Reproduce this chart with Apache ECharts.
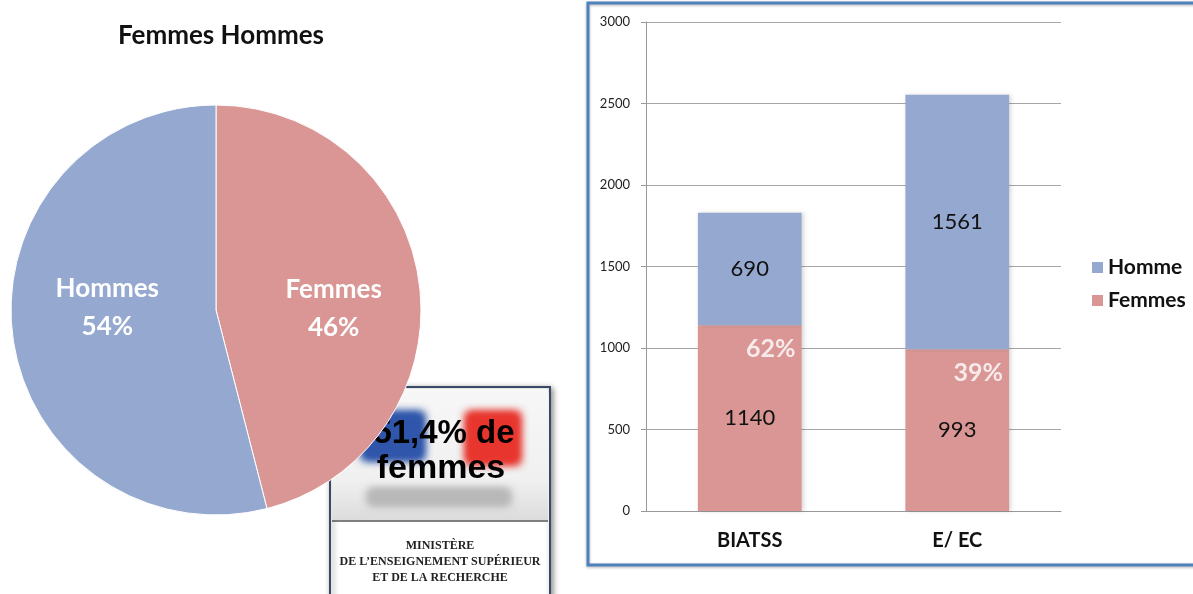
<!DOCTYPE html>
<html>
<head>
<meta charset="utf-8">
<title>Femmes Hommes</title>
<script src="https://cdn.jsdelivr.net/npm/echarts@6/dist/echarts.min.js"></script>
<style>
  html, body { margin: 0; padding: 0; background: #fff; }
  #chart { width: 1193px; height: 594px; }
</style>
</head>
<body>
<div id="chart"></div>
<script>
// données du camembert
let pieNames = ['Femmes', 'Hommes'];
let pieValues = [46, 54];

// données des barres
let categories = ['BIATSS', 'E/ EC'];
let femmesValues = [1140, 993];
let hommeValues = [690, 1561];
let femmesPct = ['62%', '39%'];

let blue = '#95a9d0',
    pink = '#d99694',
    font = 'Lato, "Open Sans", sans-serif';

let chart = echarts.init(document.getElementById('chart'));

// décalage des étiquettes du camembert
let pieOffsets = [[13, 12], [-4, -16]];
let pieData = pieNames.map(function (name, i) {
    return {
        name: name,
        value: pieValues[i],
        itemStyle: { color: i === 0 ? pink : blue },
        label: { offset: pieOffsets[i] }
    };
});

// flou : on dessine seulement l'ombre (forme hors écran)
let blurRect = function (x, y, w, h, color, blur) {
    return {
        type: 'rect',
        shape: { x: x - 2000, y: y, width: w, height: h, r: 4 },
        style: { fill: color, shadowBlur: blur, shadowColor: color, shadowOffsetX: 2000 }
    };
};

chart.setOption({
    animation: false,
    title: {
        text: 'Femmes Hommes',
        left: 216,
        top: 18,
        textAlign: 'center',
        textStyle: { fontFamily: font, fontSize: 26, fontWeight: 'bold', color: '#111' }
    },
    legend: {
        data: ['Homme', 'Femmes'],
        orient: 'vertical',
        left: 1087,
        top: 252,
        itemWidth: 11,
        itemHeight: 11,
        itemGap: 12,
        icon: 'rect',
        textStyle: { fontFamily: font, fontSize: 21, fontWeight: 'bold', color: '#111' }
    },
    grid: { left: 646, right: 132, top: 22, bottom: 83 },
    xAxis: {
        type: 'category',
        data: categories,
        axisLine: { lineStyle: { color: '#999' } },
        axisTick: { length: 8, lineStyle: { color: '#999' } },
        axisLabel: { margin: 20, fontFamily: font, fontSize: 20, fontWeight: 'bold', color: '#111' }
    },
    yAxis: {
        type: 'value',
        min: 0,
        max: 3000,
        interval: 500,
        axisLine: { show: true, lineStyle: { color: '#999' } },
        axisTick: { show: true, length: 5, lineStyle: { color: '#999' } },
        splitLine: { lineStyle: { color: '#a6a6a6' } },
        axisLabel: { margin: 16, fontFamily: font, fontSize: 13, color: '#222', formatter: function (v) { return String(v); } }
    },
    series: [{
        type: 'pie',
        center: [216, 310],
        radius: 205,
        startAngle: 90,
        clockwise: true,
        data: pieData,
        itemStyle: { borderColor: '#fff', borderWidth: 1 },
        label: {
            position: 'inside',
            formatter: '{b}\n{d}%',
            fontFamily: font,
            fontSize: 26,
            fontWeight: 'bold',
            lineHeight: 38,
            color: '#fff'
        },
        labelLine: { show: false }
    }, {
        name: 'Femmes',
        type: 'bar',
        stack: 'total',
        data: femmesValues,
        barWidth: '50%',
        itemStyle: { color: pink, shadowBlur: 4, shadowColor: 'rgba(0,0,0,0.15)', shadowOffsetX: 2 },
        label: { show: true, position: 'inside', fontFamily: font, fontSize: 22, color: '#111' }
    }, {
        name: 'Homme',
        type: 'bar',
        stack: 'total',
        data: hommeValues,
        barWidth: '50%',
        itemStyle: { color: blue, shadowBlur: 4, shadowColor: 'rgba(0,0,0,0.15)', shadowOffsetX: 2 },
        label: { show: true, position: 'inside', fontFamily: font, fontSize: 22, color: '#111' }
    }, {
        type: 'scatter',
        data: femmesValues,
        symbolSize: 0,
        silent: true,
        z: 5,
        label: {
            show: true,
            position: 'bottom',
            distance: 0,
            offset: [21, 11],
            formatter: function (p) { return femmesPct[p.dataIndex]; },
            fontFamily: font,
            fontSize: 25,
            fontWeight: 'bold',
            color: '#fff'
        }
    }],
    graphic: [
        // cadre bleu du graphique en barres
        {
            type: 'rect',
            shape: { x: 588, y: 3, width: 640, height: 562 },
            style: { fill: 'none', stroke: '#4f81bd', lineWidth: 3, shadowBlur: 3, shadowColor: 'rgba(0,0,0,0.3)', shadowOffsetY: 1 },
            z: 0
        },
        // encart ministère
        {
            type: 'group',
            z: 100,
            children: [
                {
                    type: 'rect',
                    shape: { x: 330, y: 387, width: 220, height: 220 },
                    style: { fill: '#fff', stroke: '#3a4a66', lineWidth: 2, shadowBlur: 6, shadowColor: 'rgba(0,0,0,0.45)', shadowOffsetX: 2, shadowOffsetY: 2 }
                },
                {
                    type: 'rect',
                    shape: { x: 332, y: 389, width: 216, height: 131 },
                    style: {
                        fill: new echarts.graphic.LinearGradient(0, 0, 0, 1, [
                            { offset: 0, color: '#f7f7f7' },
                            { offset: 0.7, color: '#f0f0f0' },
                            { offset: 1, color: '#dcdcdc' }
                        ])
                    }
                },
                blurRect(362, 412, 62, 48, '#2f56aa', 8),
                blurRect(362, 412, 62, 48, '#2f56aa', 8),
                blurRect(366, 416, 54, 40, '#2f56aa', 4),
                blurRect(466, 412, 54, 52, '#e8362e', 8),
                blurRect(466, 412, 54, 52, '#e8362e', 8),
                blurRect(470, 416, 46, 44, '#e8362e', 4),
                blurRect(368, 489, 142, 16, '#b8b8b8', 8),
                blurRect(368, 489, 142, 16, '#b8b8b8', 8),
                {
                    type: 'line',
                    shape: { x1: 332, y1: 521, x2: 548, y2: 521 },
                    style: { stroke: '#555', lineWidth: 1.5 }
                },
                {
                    type: 'text',
                    x: 444, y: 434,
                    style: {
                        text: '51,4% de', fontFamily: '"Liberation Sans", Arial, sans-serif', fontSize: 33, fontWeight: 'bold',
                        fill: '#000', align: 'center', verticalAlign: 'middle'
                    }
                },
                {
                    type: 'text',
                    x: 441, y: 469,
                    style: {
                        text: 'femmes', fontFamily: '"Liberation Sans", Arial, sans-serif', fontSize: 34, fontWeight: 'bold',
                        fill: '#000', align: 'center', verticalAlign: 'middle'
                    }
                },
                {
                    type: 'text',
                    x: 440, y: 538,
                    style: {
                        text: 'MINISTÈRE\nDE L\u2019ENSEIGNEMENT SUPÉRIEUR\nET DE LA RECHERCHE',
                        fontFamily: '"Liberation Serif", "DejaVu Serif", serif', fontSize: 12, fontWeight: 'bold', lineHeight: 16,
                        fill: '#222', align: 'center', verticalAlign: 'top'
                    }
                }
            ]
        }
    ]
});
</script>
</body>
</html>
